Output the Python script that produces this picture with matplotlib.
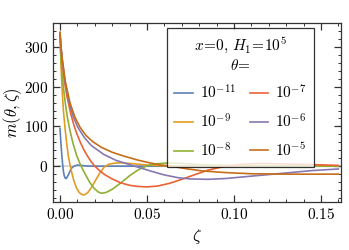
import numpy as np
import matplotlib
matplotlib.use("Agg")
import matplotlib.pyplot as plt
from matplotlib.ticker import MultipleLocator, FuncFormatter

plt.rcParams['font.family'] = 'serif'
plt.rcParams['mathtext.fontset'] = 'cm'

# legend labels, in legend order (column-wise)
theta_labels = [r'$10^{-11}$', r'$10^{-9}$', r'$10^{-8}$',
                r'$10^{-7}$', r'$10^{-6}$', r'$10^{-5}$']
colors = ['#5e81b5', '#e19c24', '#8fb032', '#eb6235', '#8778b3', '#c56e1a']

# values (zeta, m)
z_11 = [0, 0.0005, 0.001, 0.0015, 0.002, 0.0025, 0.003, 0.0035, 0.004, 0.005,
        0.006, 0.007, 0.0086, 0.01, 0.012, 0.015, 0.02, 0.16]
m_11 = [95, 60, 30, 5, -14, -25, -30, -31, -28, -20,
        -10, -3, 1, 3, 2, 0.5, 0, 0]

z_9 = [0, 0.0003, 0.0007, 0.0013, 0.002, 0.0029, 0.004, 0.0048, 0.0057, 0.0067,
       0.008, 0.0095, 0.011, 0.0125, 0.0134, 0.0145, 0.016, 0.018, 0.0205, 0.023,
       0.0255, 0.028, 0.032, 0.0355, 0.04, 0.045, 0.05, 0.06, 0.07, 0.16]
m_9 = [335, 290, 240, 185, 138, 95, 52, 25, 5, -15,
       -37, -55, -66, -71, -72, -71, -66, -54, -35, -16,
       -2, 5, 8, 8.5, 7, 5, 3, 1, 0, 0]

z_8 = [0, 0.0003, 0.0007, 0.0013, 0.002, 0.003, 0.0042, 0.0057, 0.0075, 0.0095,
       0.0115, 0.0125, 0.0145, 0.017, 0.0195, 0.022, 0.024, 0.0265, 0.03, 0.035,
       0.04, 0.045, 0.05, 0.055, 0.062, 0.07, 0.08, 0.09, 0.1, 0.12, 0.14, 0.16]
m_8 = [335, 298, 262, 228, 196, 160, 124, 90, 57, 28,
       6, -3, -20, -40, -55, -65, -68, -66, -58, -42,
       -24, -9, 1, 6, 8, 7, 4, 3, 2, 1, 0.5, 0]

z_7 = [0, 0.0005, 0.0013, 0.0025, 0.0039, 0.006, 0.0082, 0.01, 0.012, 0.014,
       0.016, 0.018, 0.02, 0.023, 0.026, 0.03, 0.035, 0.04, 0.045, 0.05,
       0.056, 0.063, 0.07, 0.077, 0.085, 0.095, 0.105, 0.115, 0.125, 0.135,
       0.145, 0.16]
m_7 = [335, 300, 262, 215, 178, 135, 100, 78, 57, 39,
       24, 11, 0, -12, -22, -32, -42, -48, -51, -52,
       -50, -43, -33, -22, -10, 0, 5, 7, 6, 5,
       4, 2]

z_6 = [0, 0.0005, 0.0013, 0.003, 0.0052, 0.0075, 0.0102, 0.014, 0.018, 0.025,
       0.032, 0.04, 0.046, 0.052, 0.06, 0.068, 0.075, 0.085, 0.095, 0.105,
       0.115, 0.125, 0.135, 0.145, 0.16]
m_6 = [335, 305, 269, 210, 161, 126, 98, 72, 52, 30,
       15, 4, -4, -12, -22, -29, -32, -33, -31, -27,
       -23, -19, -15, -11, -7]

z_5 = [0, 0.0005, 0.0013, 0.003, 0.0057, 0.0085, 0.0115, 0.015, 0.019, 0.024,
       0.03, 0.037, 0.045, 0.052, 0.058, 0.064, 0.072, 0.082, 0.095, 0.11,
       0.13, 0.16]
m_5 = [337, 300, 268, 214, 160, 124, 98, 77, 61, 47,
       35, 25, 15, 8, 3, 0, -6, -12, -16, -19,
       -20, -20]

series = [(z_11, m_11), (z_9, m_9), (z_8, m_8), (z_7, m_7), (z_6, m_6), (z_5, m_5)]

fig = plt.figure(figsize=(3.49, 2.50), dpi=100)
ax = fig.add_axes([0.152, 0.192, 0.825, 0.716])

ax.axhline(0, color='#d6d6d6', lw=1.3, zorder=1)
for (z, m), lab, c in zip(series, theta_labels, colors):
    ax.plot(z, m, color=c, lw=1.2, label=lab, zorder=2)

ax.set_xlim(-0.004, 0.1615)
ax.set_ylim(-90, 360)
ax.xaxis.set_major_locator(MultipleLocator(0.05))
ax.xaxis.set_minor_locator(MultipleLocator(0.01))
ax.yaxis.set_major_locator(MultipleLocator(100))
ax.yaxis.set_minor_locator(MultipleLocator(20))
ax.set_yticks([0, 100, 200, 300])
ax.xaxis.set_major_formatter(FuncFormatter(lambda v, p: r'$%.2f$' % v))
ax.yaxis.set_major_formatter(FuncFormatter(lambda v, p: r'$%d$' % v))
ax.tick_params(which='both', direction='in', top=True, right=True,
               labelsize=11, color='#333333')
ax.tick_params(which='major', length=5, width=0.9)
ax.tick_params(which='minor', length=2.5, width=0.7)
for s in ax.spines.values():
    s.set_color('#333333')
    s.set_linewidth(0.9)

ax.set_xlabel(r'$\zeta$', fontsize=12, labelpad=4)
ax.set_ylabel(r'$m(\theta,\zeta)$', fontsize=12, labelpad=0)

leg = ax.legend(ncol=2, loc='upper right', bbox_to_anchor=(0.906, 0.972),
                borderaxespad=0,
                title='$x\\!=\\!0,\\,H_1\\!=\\!10^5$\n$\\theta\\!=$',
                fontsize=11, title_fontsize=11, frameon=True, fancybox=False,
                edgecolor='black', handlelength=1.2, handletextpad=0.45,
                columnspacing=0.9, borderpad=0.5, labelspacing=0.7)
leg.get_frame().set_linewidth(0.9)
leg.get_title().set_multialignment('center')

fig.savefig('out.png', dpi=100)
